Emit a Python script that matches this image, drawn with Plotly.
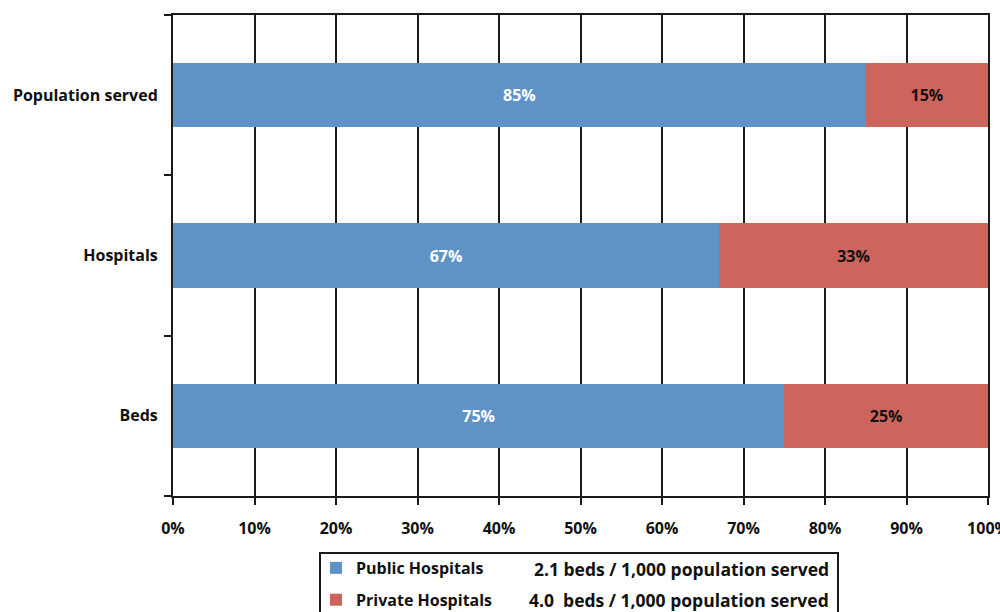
import plotly.graph_objects as go

# Share of public vs private hospitals, by measure
categories = ["Beds", "Hospitals", "Population served"]
public_pct = [75, 67, 85]
private_pct = [25, 33, 15]
series_names = ["Public Hospitals", "Private Hospitals"]
beds_ratio = ["2.1 beds / 1,000 population served", "4.0  beds / 1,000 population served"]
x_ticks = [0, 10, 20, 30, 40, 50, 60, 70, 80, 90, 100]

BLUE = "#5f93c8"
RED = "#cd645d"
FONT = "Open Sans"
FS = 16

fig = go.Figure()
fig.add_trace(go.Bar(
    y=categories, x=public_pct, orientation="h", name=series_names[0],
    marker=dict(color=BLUE, line=dict(width=0)),
    texttemplate="%{x}%", textposition="inside", insidetextanchor="middle",
    textangle=0, textfont=dict(color="white", size=FS, family=FONT, weight="bold"),
    legendgroup="pub", width=0.4,
))
fig.add_trace(go.Bar(
    y=categories, x=private_pct, orientation="h", name=series_names[1],
    marker=dict(color=RED, line=dict(width=0)),
    texttemplate="%{x}%", textposition="inside", insidetextanchor="middle",
    textangle=0, textfont=dict(color="#111", size=FS, family=FONT, weight="bold"),
    legendgroup="priv", width=0.4,
))

L, R, T, B = 173, 12, 15, 116
W, H = 1000, 612
pw = W - L - R
ph = H - T - B

def px_x(p):
    return (p - L) / pw

def px_y(p):
    return (H - B - p) / ph

fig.update_layout(
    width=W, height=H,
    margin=dict(l=L, r=R, t=T, b=B, autoexpand=False),
    barmode="stack",
    plot_bgcolor="white", paper_bgcolor="white",
    font=dict(family=FONT, size=FS, color="#111", weight="bold"),
    showlegend=True,
    legend=dict(
        x=px_x(316), y=px_y(551), xanchor="left", yanchor="top",
        traceorder="grouped", tracegroupgap=8,
        bgcolor="rgba(0,0,0,0)", borderwidth=0,
        font=dict(family=FONT, size=FS, color="#111", weight="bold"),
    ),
    xaxis=dict(
        range=[0, 100], tickvals=x_ticks, ticktext=[f"{v}%" for v in x_ticks],
        showgrid=True, gridcolor="#1a1a1a", gridwidth=2,
        showline=True, linecolor="#1a1a1a", linewidth=2, mirror=True,
        ticks="outside", ticklen=7, tickwidth=2, tickcolor="#1a1a1a",
        ticklabelstandoff=10, ticklabeloverflow="allow", zeroline=False,
    ),
    yaxis=dict(
        categoryorder="array", categoryarray=categories,
        range=[-0.5, 2.5], showgrid=False,
        showline=True, linecolor="#1a1a1a", linewidth=2, mirror=True,
        ticks="outside", ticklen=7, tickwidth=2, tickcolor="#1a1a1a",
        tickson="boundaries", ticklabelstandoff=10,
    ),
)

# Legend frame and second column
fig.add_shape(type="rect", xref="paper", yref="paper",
              x0=px_x(320), x1=px_x(838), y0=px_y(553), y1=px_y(640),
              line=dict(color="#1a1a1a", width=2), fillcolor="rgba(0,0,0,0)")
for i, txt in enumerate(beds_ratio):
    fig.add_annotation(xref="paper", yref="paper", x=px_x(831), y=px_y(569 + 31 * i),
                       xanchor="right", yanchor="middle", text=txt, showarrow=False,
                       font=dict(family=FONT, size=FS + 1.5, color="#111", weight="bold"))

fig.write_html("out.html")
